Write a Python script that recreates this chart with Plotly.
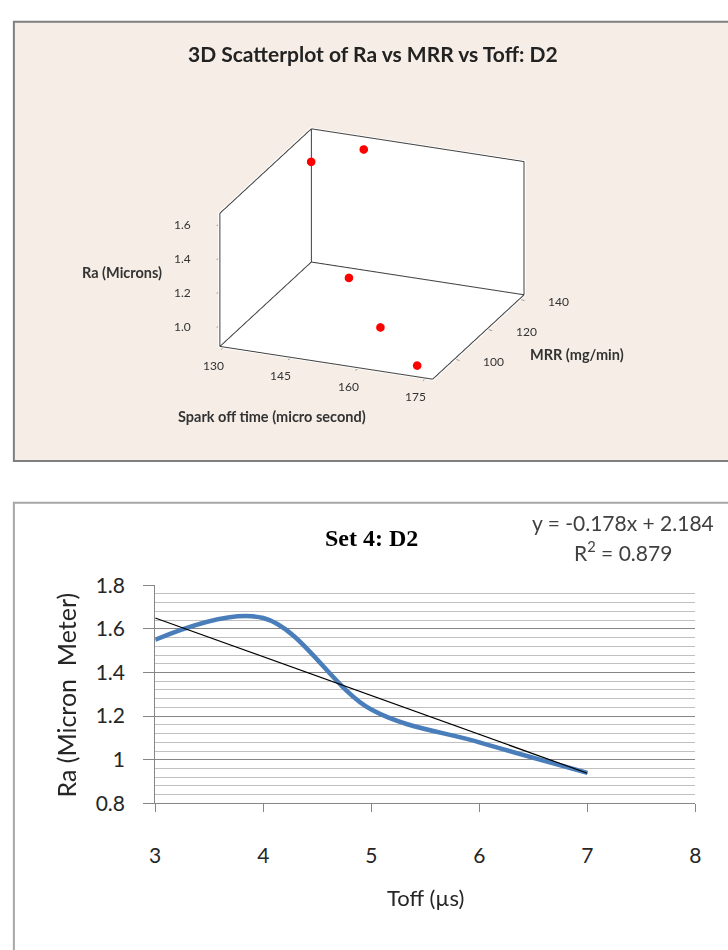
import math
import plotly.graph_objects as go

# ---------------- data ----------------
# 3D scatter (top panel)
toff_3d = [132, 143, 152, 163, 173]          # Spark off time (micro second)
mrr_3d = [135, 137, 103, 92, 87]             # MRR (mg/min)
ra_3d = [1.55, 1.65, 1.23, 1.08, 0.94]       # Ra (Microns)

toff_range = [129, 177]
mrr_range = [86, 143]
ra_range = [0.875, 1.67]
toff_ticks = [130, 145, 160, 175]
mrr_ticks = [100, 120, 140]
ra_ticks = [1.0, 1.2, 1.4, 1.6]

# 2D line chart (bottom panel)
toff_set = [3, 4, 5, 6, 7]
ra_set = [1.55, 1.65, 1.23, 1.08, 0.94]
trend_slope = -0.178
trend_intercept = 2.184
trend_r2 = 0.879
x_ticks = [3, 4, 5, 6, 7, 8]
y_ticks = [0.8, 1.0, 1.2, 1.4, 1.6, 1.8]
y_ticktext = ["0.8", "1", "1.2", "1.4", "1.6", "1.8"]

W, H = 728, 950


def px(x):
    return x / W


def py(y):
    return 1 - y / H


fig = go.Figure()

# ---------- 3D box edges (back walls), derived from axis ranges ----------
# nudged a hair inside the box so the lines sit in front of the wall planes
eps = 0.006
xa, xb = toff_range
ya, yb = mrr_range
za, zb = ra_range
dx, dy, dz = (xb - xa) * eps, (yb - ya) * eps, (zb - za) * eps
x0, x1 = xa + dx, xb - dx
y0, y1 = ya + dy, yb - dy
z0, z1 = za + dz, zb - dz
ex, ey, ez = [], [], []
edges = [
    ((x0, y0, z0), (x1, y0, z0)),
    ((x1, y0, z0), (x1, y1, z0)),
    ((x1, y1, z0), (x0, y1, z0)),
    ((x0, y1, z0), (x0, y0, z0)),
    ((x0, y0, z0), (x0, y0, z1)),
    ((x0, y0, z1), (x0, y1, z1)),
    ((x0, y1, z0), (x0, y1, z1)),
    ((x0, y1, z1), (x1, y1, z1)),
    ((x1, y1, z0), (x1, y1, z1)),
]
for a, b in edges:
    ex += [a[0], b[0], None]
    ey += [a[1], b[1], None]
    ez += [a[2], b[2], None]

fig.add_trace(go.Scatter3d(
    x=ex, y=ey, z=ez, mode="lines",
    line=dict(color="#3F3F3F", width=2),
    hoverinfo="skip", showlegend=False, scene="scene",
))
fig.add_trace(go.Scatter3d(
    x=toff_3d, y=mrr_3d, z=ra_3d, mode="markers",
    marker=dict(color="#FF0000", size=5, line=dict(width=0)),
    showlegend=False, scene="scene",
))

# ---------- 2D chart ----------
fig.add_trace(go.Scatter(
    x=toff_set, y=ra_set, mode="lines",
    line=dict(color="#4A7EBB", width=4.5, shape="spline", smoothing=1.0),
    showlegend=False, xaxis="x", yaxis="y",
))
trend_x = [toff_set[0], toff_set[-1]]
trend_y = [trend_slope * v + trend_intercept for v in trend_x]
fig.add_trace(go.Scatter(
    x=trend_x, y=trend_y, mode="lines",
    line=dict(color="#000000", width=1.2),
    showlegend=False, xaxis="x", yaxis="y",
))

ax3d = dict(
    showbackground=True, backgroundcolor="white",
    showgrid=False, zeroline=False, showline=False,
    showspikes=False, ticks="outside", ticklen=4, tickcolor="#3F3F3F",
    showticklabels=False,
    title=dict(text=""),
)

tick3d_font = dict(family="Lato", size=12, color="#333333")
scene_ann = []
for t in ra_ticks:
    scene_ann.append(dict(x=toff_range[0], y=mrr_range[0], z=t, text="%.1f" % t,
                          showarrow=False, xshift=-36, yshift=0, font=tick3d_font))
for t in toff_ticks:
    scene_ann.append(dict(x=t, y=mrr_range[0], z=ra_range[0], text=str(t),
                          showarrow=False, xshift=-9, yshift=-17, font=tick3d_font))
for t in mrr_ticks:
    scene_ann.append(dict(x=toff_range[1], y=t, z=ra_range[0], text=str(t),
                          showarrow=False, xshift=38, yshift=-1, font=tick3d_font))

eye_dir = (0.350, -0.857, 0.377)
eye_len = 2.0
box_scale = 1.36

lab3d_font = dict(family="Lato", size=14.5, color="#333333")


def ann(text, x, y, font, **kw):
    d = dict(text=text, x=px(x), y=py(y), xref="paper", yref="paper",
             showarrow=False, xanchor="center", yanchor="middle", font=font)
    d.update(kw)
    return d


fig.update_layout(
    width=W, height=H,
    margin=dict(l=0, r=0, t=0, b=0),
    paper_bgcolor="white",
    plot_bgcolor="white",
    hovermode=False,
    scene=dict(
        domain=dict(x=[0.06, 0.962], y=[0.5553, 0.9253]),
        bgcolor="rgba(0,0,0,0)",
        xaxis=dict(ax3d, range=toff_range, tickvals=toff_ticks),
        yaxis=dict(ax3d, range=mrr_range, tickvals=mrr_ticks),
        zaxis=dict(ax3d, range=ra_range, tickvals=ra_ticks),
        aspectmode="manual",
        aspectratio=dict(x=1 * box_scale, y=1.052 * box_scale, z=0.626 * box_scale),
        camera=dict(
            eye=dict(x=eye_dir[0] * eye_len, y=eye_dir[1] * eye_len, z=eye_dir[2] * eye_len),
            up=dict(x=0, y=0, z=1),
            center=dict(x=0, y=0, z=0),
            projection=dict(type="orthographic"),
        ),
        annotations=scene_ann,
    ),
    xaxis=dict(
        domain=[px(151.7), px(701)],
        range=[3, 8], tickvals=x_ticks,
        showgrid=False, zeroline=False,
        showline=True, linecolor="#868686", linewidth=1,
        ticks="outside", ticklen=8, tickcolor="#868686",
        ticklabelstandoff=25,
        tickfont=dict(family="Lato", size=21, color="#262626"),
        anchor="y",
    ),
    yaxis=dict(
        domain=[py(810.7), py(586.7)],
        range=[0.8, 1.8], tickvals=y_ticks, ticktext=y_ticktext,
        showgrid=True, gridcolor="#868686", gridwidth=1,
        minor=dict(dtick=0.04, showgrid=True, gridcolor="#C0C0C0", gridwidth=1),
        zeroline=False,
        showline=True, linecolor="#868686", linewidth=1,
        ticks="outside", ticklen=11, tickcolor="#868686",
        ticklabelstandoff=14,
        tickfont=dict(family="Lato", size=21, color="#262626"),
        anchor="x",
    ),
    shapes=[
        dict(type="rect", xref="paper", yref="paper", layer="below",
             x0=px(8), x1=px(760), y0=py(459), y1=py(8),
             line=dict(color="#7F7F7F", width=2), fillcolor="#F5EDE6"),
        dict(type="rect", xref="paper", yref="paper", layer="below",
             x0=px(8), x1=px(760), y0=py(970), y1=py(502),
             line=dict(color="#A6A6A6", width=2), fillcolor="white"),
    ],
    annotations=[
        ann("<b>3D Scatterplot of Ra vs MRR vs Toff: D2</b>", 373, 41,
            dict(family="Lato", size=21, color="#222222")),
        ann("<b>Ra (Microns)</b>", 118, 265, lab3d_font),
        ann("<b>MRR (mg/min)</b>", 581, 350, lab3d_font),
        ann("<b>Spark off time (micro second)</b>", 270, 413, lab3d_font),
        ann("<b>Set 4: D2</b>", 372, 538,
            dict(family="Liberation Serif", size=24, color="#000000")),
        ann("y = %.3fx + %.3f" % (trend_slope, trend_intercept), 627, 522,
            dict(family="Lato", size=21, color="#404040")),
        ann("R<sup>2</sup> = %.3f" % trend_r2, 627, 552,
            dict(family="Lato", size=21, color="#404040")),
        ann("Ra (Micron\u00a0\u00a0Meter)", 61, 699,
            dict(family="Lato", size=25, color="#262626"), textangle=-90),
        ann("Toff (\u00b5s)", 427, 907,
            dict(family="Lato", size=22, color="#262626")),
    ],
)

fig.write_html("out.html")
